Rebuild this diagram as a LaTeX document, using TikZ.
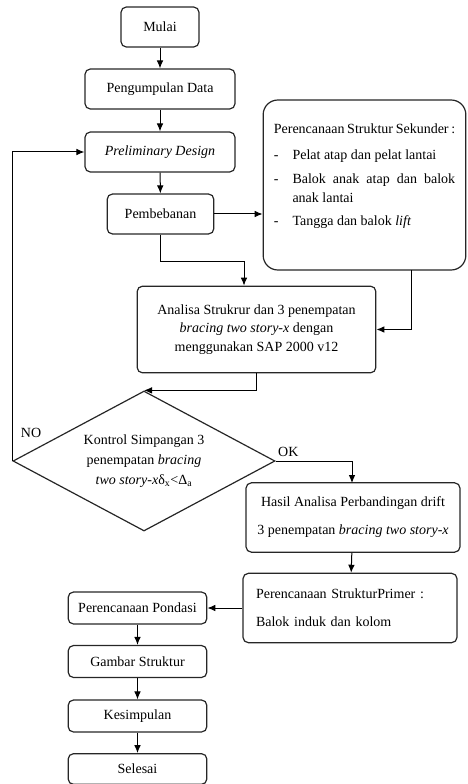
\documentclass[tikz,border=0pt]{standalone}
\usepackage{amsmath}
\usepackage{fontspec}
\setmainfont{Liberation Serif}
\usetikzlibrary{arrows.meta,shapes.geometric}

\tikzset{
	kotak/.style={draw=black!85, line width=0.9pt, rounded corners=4pt, align=center, inner sep=2pt, font=\fontsize{10.5}{14}\selectfont},
	kotakbesar/.style={kotak, rounded corners=11pt},
	belah/.style={draw=black!85, line width=0.9pt, diamond, aspect=1.87, inner sep=0pt, align=center, font=\fontsize{10.5}{15}\selectfont},
	panah/.style={-{Latex[length=6pt,width=5pt]}, line width=0.75pt},
	garis/.style={-, line width=0.75pt},
	ket/.style={inner sep=0pt, font=\fontsize{10.5}{12}\selectfont}
}

\begin{document}
\begin{tikzpicture}[x=0.75pt, y=-0.75pt]
	
	\useasboundingbox (0,0) rectangle (467,784);
	
	\node[kotak, minimum width=58.5pt, minimum height=30pt] (mulai) at (160, 27) {Mulai};
	\node[kotak, minimum width=112.5pt, minimum height=30pt] (data) at (160, 89) {Pengumpulan Data};
	\node[kotak, minimum width=112.5pt, minimum height=30pt] (prelim) at (160, 152) {\textit{Preliminary Design}};
	\node[kotak, minimum width=80pt, minimum height=30pt] (beban) at (160.5, 214) {Pembebanan};
	
	% struktur sekunder
	\node[kotakbesar, inner xsep=8pt, inner ysep=0pt, minimum width=152pt, minimum height=127.5pt] (sekunder) at (364.5, 185)
	{\parbox[c][127.5pt][t]{136pt}{\setlength{\parindent}{0pt}\fontsize{10.5}{14.5}\selectfont
			\vspace*{18pt}Perencanaan Struktur Sekunder :\par\vspace{2pt}
			\setlength{\parskip}{3pt}
			\hangindent=14pt\makebox[14pt][l]{-}Pelat atap dan pelat lantai\par
			\hangindent=14pt\makebox[14pt][l]{-}Balok anak atap dan balok anak lantai\par
			\hangindent=14pt\makebox[14pt][l]{-}Tangga dan balok \textit{lift}\par}};
	
	\node[kotak, minimum width=179pt, minimum height=65pt] (analisa) at (256.5, 329.5)
	{Analisa Strukrur dan 3 penempatan\\ \textit{bracing two story-x} dengan\\ menggunakan SAP 2000 v12};
	
	\node[belah, minimum width=196.5pt, minimum height=105pt] (cek) at (144, 461)
	{Kontrol Simpangan 3\\ penempatan \textit{bracing}\\ \textit{two story-x}δ\textsubscript{x}<Δ\textsubscript{a}};
	
	\node[kotak, minimum width=160.5pt, minimum height=52pt, font=\fontsize{10.5}{21}\selectfont] (hasil) at (353, 517.5)
	{Hasil Analisa Perbandingan drift\\ 3 penempatan \textit{bracing two story-x}};
	
	\node[kotak, minimum width=160.5pt, minimum height=52pt, text width=141pt, align=left, font=\fontsize{10.5}{21}\selectfont] (primer) at (350, 608)
	{Perencanaan StrukturPrimer :\\ Balok induk dan kolom};
	
	\node[kotak, minimum width=104pt, minimum height=24pt] (pondasi) at (137.5, 608) {Perencanaan Pondasi};
	\node[kotak, minimum width=104pt, minimum height=24pt] (gambar) at (137.5, 661.5) {Gambar Struktur};
	\node[kotak, minimum width=104pt, minimum height=24pt] (simpul) at (137.5, 716) {Kesimpulan};
	\node[kotak, minimum width=104pt, minimum height=23pt] (selesai) at (137.5, 769) {Selesai};
	
	\coordinate (j1) at (244, 261);
	\coordinate (j2) at (411, 270);
	\coordinate (j3) at (352, 483);
	
	\draw[panah] (mulai) -- (data);
	\draw[panah] (data) -- (prelim);
	\draw[panah] (prelim) -- (beban);
	\draw[panah] (beban.east) -- (sekunder.west |- beban.east);
	\draw[garis] (beban.south) |- (j1);
	\draw[panah] (j1) -- (j1 |- analisa.north);
	\draw[panah] (j2) |- (analisa.east);
	\draw[panah] (analisa.south) |- (cek.north);
	\draw[panah] (cek.west) |- node[ket, pos=0.045, anchor=west, xshift=6pt] {NO} (prelim.west);
	\draw[panah] (cek.east) -| node[ket, pos=0.083, anchor=south, yshift=3pt] {OK} (j3);
	\draw[panah] (hasil) -- (primer);
	\draw[panah] (primer.west) -- (pondasi.east);
	\draw[panah] (pondasi) -- (gambar);
	\draw[panah] (gambar) -- (simpul);
	\draw[panah] (simpul) -- (selesai);
	
\end{tikzpicture}
\end{document}
